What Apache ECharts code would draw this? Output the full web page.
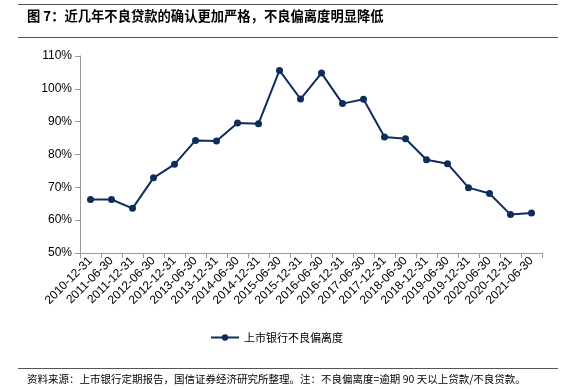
<!DOCTYPE html>
<html><head><meta charset="utf-8">
<script src="https://cdn.jsdelivr.net/npm/echarts@6/dist/echarts.min.js"></script>
<style>html,body{margin:0;padding:0;background:#fff}#c{width:575px;height:389px}</style>
</head><body><div id="c"></div>
<script>
const categories = ['2010-12-31','2011-06-30','2011-12-31','2012-06-30','2012-12-31','2013-06-30','2013-12-31','2014-06-30','2014-12-31','2015-06-30','2015-12-31','2016-06-30','2016-12-31','2017-06-30','2017-12-31','2018-06-30','2018-12-31','2019-06-30','2019-12-31','2020-06-30','2020-12-31','2021-06-30'];
const deviation = [66.3,66.3,63.6,72.9,77.0,84.3,84.1,89.6,89.4,105.6,96.9,104.8,95.5,96.8,85.3,84.8,78.4,77.2,69.9,68.1,61.7,62.2];
const seriesName = '上市银行不良偏离度';
const titleText = '图 7：近几年不良贷款的确认更加严格，不良偏离度明显降低';
const sourceText = '资料来源：上市银行定期报告，国信证券经济研究所整理。注：不良偏离度=逾期 90 天以上贷款/不良贷款。';

const chart = echarts.init(document.getElementById('c'), null, {renderer:'canvas'});
const navy = '#0f2d5a';
chart.setOption({
  animation:false,
  backgroundColor:'#fff',
  textStyle:{fontFamily:'Liberation Sans, Arial, sans-serif'},
  graphic:[
    {type:'line',shape:{x1:18,y1:4.5,x2:558,y2:4.5},style:{stroke:'#555',lineWidth:1}},
    {type:'line',shape:{x1:18,y1:37.5,x2:558,y2:37.5},style:{stroke:'#555',lineWidth:1}},
    {type:'text',left:27,top:9,style:{text:titleText,fontSize:13.3,fontWeight:'bold',fill:'#000',fontFamily:'"Noto Sans CJK SC", sans-serif'}},
    {type:'line',shape:{x1:18,y1:368.5,x2:558,y2:368.5},style:{stroke:'#555',lineWidth:1}},
    {type:'text',left:27,top:374,style:{text:sourceText,fontSize:10.5,fill:'#000',fontFamily:'"Noto Sans CJK SC", sans-serif'}}
  ],
  legend:{
    data:[seriesName],
    top:327,left:205,
    itemWidth:28,itemHeight:8,itemGap:5,
    textStyle:{fontSize:11,color:'#000',fontFamily:'"Noto Sans CJK SC", sans-serif'}
  },
  grid:{left:80,right:33,top:56,bottom:136,containLabel:false},
  xAxis:{
    type:'category',data:categories,boundaryGap:true,
    axisLine:{lineStyle:{color:'#999'}},
    axisTick:{show:true,alignWithLabel:false,length:5,lineStyle:{color:'#999'}},
    axisLabel:{rotate:45,interval:0,fontSize:12,color:'#000',margin:6}
  },
  yAxis:{
    type:'value',min:50,max:110,interval:10,
    axisLine:{show:true,lineStyle:{color:'#999'}},
    axisTick:{show:true,length:5,lineStyle:{color:'#999'}},
    splitLine:{show:false},
    axisLabel:{formatter:'{value}%',fontSize:12,color:'#000',margin:8}
  },
  series:[{
    name:seriesName,type:'line',data:deviation,
    symbol:'circle',symbolSize:7,
    lineStyle:{color:navy,width:2},
    itemStyle:{color:navy}
  }]
});
</script></body></html>
